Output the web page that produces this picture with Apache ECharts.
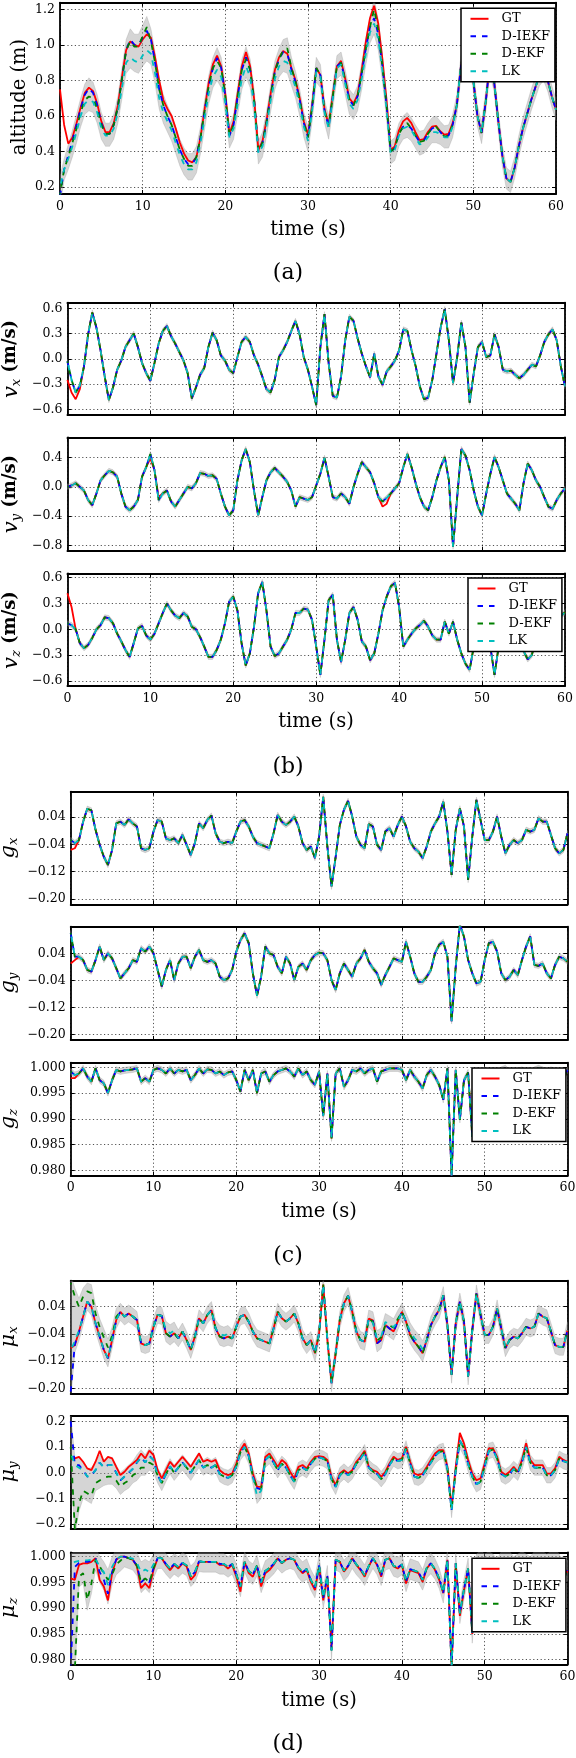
<!DOCTYPE html>
<html><head><meta charset="utf-8">
<script src="https://cdn.jsdelivr.net/npm/echarts@6/dist/echarts.min.js"></script>
<style>html,body{margin:0;padding:0;background:#fff}#c{width:576px;height:1758px}</style>
</head><body><div id="c"></div>
<script>
// ---------- data (sampled every 0.5 s, t = 0 .. 60 s) ----------
const timeTicks = [0,10,20,30,40,50,60];
const seriesNames = ['GT','D-IEKF','D-EKF','LK'];

const alt_ticks = [0.2,0.4,0.6,0.8,1.0,1.2];
const alt_gt = [
0.75,0.55,0.445,0.48,0.56,0.65,0.73,0.76,0.74,0.67,
0.57,0.51,0.51,0.56,0.66,0.82,0.97,1.02,1.00,0.99,
1.03,1.06,1.04,0.93,0.80,0.69,0.64,0.60,0.53,0.45,
0.39,0.35,0.34,0.37,0.48,0.64,0.79,0.89,0.94,0.88,
0.72,0.50,0.57,0.73,0.88,0.96,0.88,0.69,0.41,0.46,
0.58,0.73,0.86,0.93,0.965,0.95,0.87,0.80,0.70,0.57,
0.495,0.66,0.87,0.83,0.64,0.55,0.72,0.88,0.91,0.81,
0.70,0.67,0.72,0.86,1.02,1.15,1.22,1.12,0.92,0.69,
0.41,0.43,0.52,0.57,0.59,0.56,0.51,0.465,0.47,0.51,
0.54,0.545,0.515,0.495,0.50,0.56,0.66,0.88,1.00,0.97,
0.80,0.60,0.505,0.68,0.90,0.80,0.58,0.38,0.25,0.23,
0.31,0.43,0.53,0.61,0.69,0.76,0.83,0.86,0.80,0.71,
0.635];
const alt_iekf = [
0.15,0.30,0.38,0.46,0.55,0.64,0.72,0.755,0.73,0.66,
0.56,0.50,0.50,0.55,0.65,0.81,0.97,1.03,1.00,1.00,
1.04,1.08,1.03,0.90,0.75,0.66,0.60,0.55,0.48,0.41,
0.36,0.33,0.33,0.37,0.48,0.63,0.77,0.87,0.925,0.87,
0.71,0.49,0.55,0.71,0.86,0.93,0.86,0.68,0.40,0.45,
0.57,0.72,0.85,0.92,0.96,0.95,0.86,0.79,0.69,0.56,
0.48,0.65,0.87,0.83,0.63,0.54,0.71,0.88,0.90,0.80,
0.69,0.66,0.71,0.84,0.98,1.10,1.15,1.06,0.88,0.66,
0.40,0.42,0.50,0.54,0.55,0.53,0.49,0.455,0.46,0.50,
0.53,0.54,0.51,0.485,0.49,0.55,0.66,0.88,1.00,0.97,
0.80,0.60,0.505,0.68,0.90,0.80,0.58,0.38,0.25,0.23,
0.31,0.43,0.53,0.61,0.69,0.76,0.83,0.86,0.80,0.71,
0.635];
const alt_ekf_fix = [[0,0.16],[1,0.30],[2,0.37],[3,0.45],[4,0.53],[5,0.62],[6,0.69],[7,0.71],[8,0.70],[9,0.64],[10,0.55],
[17,1.02],[18,0.99],[19,0.99],[20,1.05],[21,1.10],[22,1.02],[31,0.32],[32,0.32],[38,0.91],[45,0.92],[54,0.97],[55,0.98],[56,0.87],[76,1.20],[77,1.08],[84,0.56]];
const alt_lk = [
0.20,0.30,0.36,0.43,0.51,0.60,0.67,0.69,0.68,0.62,
0.53,0.49,0.49,0.53,0.62,0.76,0.90,0.93,0.91,0.90,
0.94,0.97,0.95,0.84,0.70,0.62,0.57,0.52,0.45,0.38,
0.33,0.30,0.30,0.34,0.45,0.59,0.73,0.82,0.86,0.82,
0.67,0.48,0.53,0.67,0.81,0.88,0.82,0.65,0.39,0.43,
0.55,0.69,0.81,0.88,0.91,0.90,0.83,0.76,0.66,0.54,
0.46,0.63,0.85,0.82,0.62,0.53,0.70,0.87,0.89,0.78,
0.67,0.64,0.69,0.81,0.95,1.07,1.12,1.03,0.86,0.64,
0.39,0.41,0.49,0.53,0.54,0.52,0.48,0.44,0.45,0.48,
0.51,0.51,0.50,0.48,0.48,0.54,0.66,0.88,1.00,0.97,
0.80,0.60,0.505,0.68,0.90,0.80,0.58,0.38,0.25,0.23,
0.31,0.43,0.53,0.61,0.69,0.76,0.83,0.86,0.80,0.71,
0.635];

const vx_ticks = [-0.6,-0.3,0,0.3,0.6];
const vx_gt = [
-0.25,-0.40,-0.48,-0.36,-0.09,0.29,0.55,0.37,0.10,-0.21,
-0.49,-0.34,-0.13,-0.02,0.14,0.22,0.30,0.14,-0.05,-0.17,
-0.26,-0.05,0.18,0.33,0.39,0.27,0.18,0.08,-0.02,-0.17,
-0.47,-0.34,-0.19,-0.11,0.14,0.31,0.22,0.04,-0.02,-0.13,
-0.17,0.02,0.20,0.26,0.20,0.04,-0.07,-0.21,-0.36,-0.40,
-0.25,0.02,0.10,0.20,0.33,0.45,0.29,0.02,-0.13,-0.33,
-0.55,0.14,0.53,-0.05,-0.44,-0.46,-0.21,0.22,0.50,0.45,
0.24,0.06,-0.09,-0.22,0.06,-0.21,-0.31,-0.15,-0.09,-0.02,
0.10,0.35,0.33,0.10,-0.09,-0.33,-0.48,-0.46,-0.25,0.06,
0.37,0.59,0.22,-0.29,0.02,0.43,0.14,-0.52,-0.17,0.14,
0.20,0.02,0.04,0.29,0.14,-0.13,-0.15,-0.14,-0.19,-0.23,
-0.19,-0.13,-0.07,-0.09,0.04,0.20,0.29,0.35,0.22,-0.09,
-0.33];
const vx_est_fix = [[0,-0.03],[1,-0.25],[2,-0.40],[3,-0.32]];

const vy_ticks = [-0.8,-0.4,0,0.4];
const vy_gt = [
0.0,0.02,0.05,0.0,-0.05,-0.18,-0.25,-0.09,0.09,0.16,
0.22,0.20,0.14,-0.09,-0.27,-0.32,-0.27,-0.18,0.14,0.27,
0.39,0.23,-0.14,-0.09,-0.05,-0.20,-0.27,-0.18,-0.09,0.0,
-0.02,0.05,0.19,0.18,0.15,0.16,0.11,-0.09,-0.27,-0.39,
-0.32,0.09,0.36,0.52,0.34,-0.05,-0.39,-0.14,0.09,0.20,
0.26,0.20,0.14,0.07,-0.05,-0.27,-0.14,-0.16,-0.18,-0.14,
0.02,0.18,0.40,0.14,-0.14,-0.16,-0.09,-0.14,-0.23,0.0,
0.18,0.34,0.27,0.20,0.05,-0.14,-0.27,-0.23,-0.09,-0.02,
0.05,0.27,0.45,0.27,0.05,-0.14,-0.27,-0.32,-0.14,0.09,
0.27,0.41,0.09,-0.82,-0.14,0.52,0.43,0.23,-0.05,-0.27,
-0.39,-0.09,0.18,0.41,0.27,0.09,-0.09,-0.16,-0.23,-0.32,
0.05,0.32,0.23,0.09,0.0,-0.14,-0.27,-0.30,-0.18,-0.09,
-0.02];
const vy_est_fix = [[20,0.45],[22,-0.18],[76,-0.20],[77,-0.15]];

const vz_ticks = [-0.6,-0.3,0,0.3,0.6];
const vz_gt = [
0.42,0.26,0.0,-0.16,-0.22,-0.18,-0.10,0.0,0.05,0.14,
0.13,0.07,-0.05,-0.14,-0.24,-0.32,-0.16,0.01,0.04,-0.07,
-0.12,-0.05,0.07,0.19,0.30,0.22,0.16,0.13,0.19,0.15,
0.03,0.0,-0.09,-0.20,-0.32,-0.32,-0.24,-0.12,0.07,0.32,
0.38,0.22,-0.16,-0.42,-0.28,0.03,0.42,0.55,0.22,-0.20,
-0.31,-0.28,-0.20,-0.12,0.0,0.19,0.19,0.24,0.23,0.11,
-0.20,-0.53,-0.12,0.34,0.40,-0.12,-0.38,-0.12,0.19,0.26,
0.11,-0.14,-0.20,-0.36,-0.28,-0.05,0.22,0.38,0.50,0.54,
0.26,-0.20,-0.12,-0.05,0.01,0.05,0.10,0.03,-0.07,-0.12,
-0.12,0.09,-0.05,0.09,-0.12,-0.28,-0.40,-0.47,-0.20,0.19,
0.60,0.20,-0.20,-0.53,-0.20,0.10,0.20,0.10,-0.05,-0.15,
-0.25,-0.35,-0.30,-0.10,0.05,0.15,0.20,0.25,0.22,0.15,
0.20];
const vz_est_fix = [[0,0.07],[1,0.05],[2,0.0]];

const gxy_ticks = [-0.20,-0.12,-0.04,0.04];
const gx_gt = [
-0.056,-0.051,-0.027,0.027,0.065,0.06,0.003,-0.041,-0.076,-0.10,
-0.056,0.022,0.027,0.017,0.034,0.022,0.013,-0.051,-0.056,-0.051,
-0.002,0.032,0.027,-0.022,-0.027,-0.022,-0.036,-0.012,-0.041,-0.071,
-0.036,0.022,0.008,0.032,0.045,-0.007,-0.032,-0.036,-0.032,-0.036,
-0.002,0.027,0.032,0.013,-0.017,-0.036,-0.041,-0.046,-0.051,-0.007,
0.047,0.027,0.017,0.027,0.042,0.013,-0.036,-0.056,-0.046,-0.080,
-0.017,0.10,-0.046,-0.164,-0.076,0.017,0.062,0.088,0.042,-0.017,
-0.041,-0.051,0.020,0.013,-0.041,-0.056,-0.002,0.008,-0.017,0.017,
0.042,0.013,-0.032,-0.051,-0.061,-0.080,-0.046,-0.002,0.022,0.042,
0.086,-0.002,-0.129,0.003,0.066,0.013,-0.144,-0.017,0.091,0.032,
-0.027,-0.027,-0.002,0.042,-0.017,-0.066,-0.041,-0.027,-0.036,-0.027,
0.003,-0.002,0.003,0.037,0.027,0.027,-0.012,-0.051,-0.066,-0.056,
-0.007];
const gx_est_fix = [[0,-0.027],[1,-0.036]];
const gy_gt = [
0.010,0.020,0.030,0.020,-0.009,-0.014,0.020,0.060,0.020,0.040,
0.025,-0.004,-0.034,-0.019,-0.004,0.020,0.015,0.055,0.045,0.060,
0.040,-0.009,-0.058,-0.009,0.020,-0.039,0.010,0.030,0.030,-0.004,
0.030,0.050,0.020,0.015,0.020,0.010,-0.029,-0.039,-0.034,-0.009,
0.045,0.079,0.099,0.070,-0.019,-0.085,-0.029,0.060,0.040,0.035,
0.000,-0.019,0.030,0.010,-0.039,0.000,0.010,-0.009,0.020,0.035,
0.042,0.040,0.020,-0.039,-0.068,-0.019,0.010,-0.009,-0.029,0.010,
0.025,0.050,0.015,-0.004,-0.019,-0.053,-0.024,0.000,0.025,0.020,
0.015,0.074,0.030,-0.019,-0.044,-0.044,-0.029,-0.009,0.040,0.065,
0.074,0.030,-0.160,0.000,0.125,0.089,0.020,-0.019,-0.049,-0.044,
0.020,0.070,0.074,0.045,-0.019,-0.039,-0.029,-0.009,-0.024,0.020,
0.060,0.090,0.006,0.003,0.010,-0.019,-0.034,0.006,0.030,0.025,
0.015];
const gy_est_fix = [[0,0.10],[1,0.03]];

const z_ticks = [0.980,0.985,0.990,0.995,1.000];
const gz_gt = [
0.9979,0.9979,0.9988,0.9998,0.9982,0.9972,0.9998,0.9975,0.9969,0.9950,
0.9975,0.9995,0.9992,0.9994,0.9995,0.9996,0.9998,0.9972,0.9979,0.9972,
0.9995,0.9998,0.9995,0.9988,0.9998,0.9988,0.9995,0.9992,0.9995,0.9975,
0.9985,0.9998,0.9988,0.9996,0.9995,0.9988,0.9992,0.9985,0.9990,0.9992,
0.9975,0.9953,0.9995,0.9975,0.9995,0.9950,0.9988,0.9992,0.9972,0.9985,
0.9992,0.9995,0.9998,0.9992,0.9982,0.9998,0.9985,0.9992,0.9975,0.9966,
0.9992,0.9905,0.9988,0.9862,0.9988,0.9998,0.9962,0.9975,0.9995,0.9992,
0.9998,0.9988,0.9995,0.9998,0.9972,0.9992,0.9995,0.9998,0.9998,0.9998,
0.9995,0.9975,0.9995,0.9982,0.9972,0.9959,0.9985,0.9995,0.9982,0.9966,
0.9937,0.9998,0.9790,0.9995,0.9898,0.9975,0.9990,0.9865,0.9992,0.9985,
0.9995,0.9988,0.9992,0.9980,0.9995,0.9998,0.9990,0.9985,0.9992,0.9995,
0.9990,0.9985,0.9995,0.9998,0.9995,0.9990,0.9995,0.9992,0.9985,0.9975,
0.9995];
const gz_est_fix = [[0,0.9992],[1,0.9985]];

const mux_gt = [
-0.082,-0.073,-0.033,0.011,0.055,0.04,-0.009,-0.048,-0.087,-0.112,
-0.058,0.001,0.025,0.011,0.020,0.011,0.001,-0.068,-0.073,-0.068,
-0.019,0.016,0.013,-0.038,-0.048,-0.038,-0.053,-0.033,-0.058,-0.087,
-0.048,0.006,-0.009,0.016,0.030,-0.024,-0.048,-0.053,-0.048,-0.053,
-0.019,0.011,0.016,-0.004,-0.033,-0.053,-0.058,-0.063,-0.068,-0.024,
0.025,0.006,-0.004,0.006,0.020,-0.009,-0.053,-0.073,-0.058,-0.097,
-0.038,0.105,-0.058,-0.185,-0.097,0.001,0.050,0.072,0.025,-0.033,
-0.058,-0.063,0.005,0.000,-0.068,-0.058,-0.014,-0.024,-0.033,-0.004,
0.025,-0.004,-0.043,-0.063,-0.078,-0.097,-0.058,-0.014,0.011,0.030,
0.074,-0.014,-0.160,-0.009,0.055,-0.004,-0.165,-0.029,0.079,0.016,
-0.043,-0.043,-0.019,0.035,-0.024,-0.082,-0.058,-0.048,-0.053,-0.038,
-0.019,-0.024,-0.019,0.020,0.011,0.006,-0.033,-0.073,-0.078,-0.078,
-0.029];
const mux_iekf_fix = [[0,-0.21],[1,-0.07],[2,-0.035]];
const mux_ekf_fix = [[0,0.11],[1,0.07],[2,0.04],[3,0.07],[4,0.085],[5,0.08],[6,0.02],[7,-0.02],[8,-0.05],[9,-0.08],[10,-0.045],[11,0.01],
[73,-0.005],[74,-0.06],[75,-0.05],[77,-0.015],[78,-0.022],[79,0.004]];
const mux_lk_fix = [[0,-0.09],[1,-0.06],[2,-0.03],[23,-0.028],[24,-0.038],[25,-0.03],[36,-0.04],[37,-0.045],[38,-0.04],
[73,-0.008],[74,-0.055],[75,-0.048],[76,-0.005],[77,-0.012],[78,-0.02],[82,-0.033],[83,-0.052],[84,-0.066],[85,-0.085]];

const muy_ticks = [-0.2,-0.1,0,0.1,0.2];
const muy_gt = [
0.05,0.056,0.062,0.043,0.017,0.01,0.043,0.085,0.043,0.062,
0.056,0.023,-0.009,0.004,0.023,0.036,0.05,0.075,0.056,0.086,
0.069,0.01,-0.022,0.01,0.043,0.023,0.043,0.062,0.043,0.023,
0.05,0.075,0.043,0.05,0.043,0.05,0.01,-0.003,-0.009,-0.003,
0.036,0.088,0.114,0.075,-0.003,-0.055,-0.055,0.062,0.075,0.05,
0.023,0.05,0.036,0.004,-0.022,0.023,0.03,0.017,0.043,0.062,
0.065,0.062,0.05,-0.016,-0.048,-0.003,0.01,-0.003,0.01,0.043,
0.062,0.086,0.023,0.01,0.004,-0.016,0.004,0.036,0.062,0.05,
0.056,0.101,0.043,-0.003,-0.009,-0.003,0.023,0.05,0.075,0.088,
0.088,0.023,-0.135,0.023,0.155,0.114,0.05,-0.003,-0.029,-0.022,
0.036,0.095,0.095,0.062,0.004,-0.009,0.004,0.023,0.004,0.05,
0.115,0.05,0.03,0.03,0.03,-0.003,-0.003,0.017,0.062,0.05,
0.043];
const muy_iekf = [
0.20,0.03,0.03,0.01,-0.015,-0.01,0.01,0.04,0.02,0.03,
0.03,0.0,-0.03,-0.015,0.0,0.015,0.04,0.06,0.04,0.065,
0.05,-0.01,-0.04,-0.005,0.025,0.0,0.02,0.04,0.02,0.0,
0.025,0.05,0.02,0.03,0.02,0.03,-0.005,-0.015,-0.02,-0.01,
0.025,0.08,0.10,0.065,-0.015,-0.06,-0.065,0.05,0.065,0.04,
0.01,0.035,0.02,-0.01,-0.035,0.01,0.02,0.01,0.035,0.055,
0.06,0.055,0.045,-0.025,-0.055,-0.01,0.005,-0.01,0.005,0.035,
0.055,0.08,0.02,0.005,-0.005,-0.025,-0.005,0.03,0.055,0.045,
0.05,0.095,0.035,-0.015,-0.02,-0.01,0.015,0.04,0.065,0.08,
0.085,0.015,-0.145,0.01,0.125,0.095,0.035,-0.015,-0.045,-0.035,
0.025,0.085,0.09,0.055,-0.005,-0.015,-0.005,0.015,0.0,0.04,
0.10,0.04,0.02,0.02,0.02,-0.01,-0.01,0.01,0.055,0.045,
0.04];
const muy_ekf_fix = [[0,0.10],[1,-0.22],[2,-0.12],[3,-0.07],[4,-0.08],[5,-0.09],[6,-0.04],[7,-0.03],[8,-0.02],[9,-0.015],[10,-0.015],
[11,-0.03],[12,-0.055],[13,-0.04],[14,-0.03],[15,-0.01],[16,0.0],[17,0.02],[18,0.02],[19,0.04],[20,0.03]];
const muy_lk_fix = [[0,0.08],[1,0.03],[2,0.02],[45,-0.09],[46,-0.07]];

const muz_gt = [
0.9958,0.9955,0.9984,0.9987,0.9987,0.9990,0.9997,0.9955,0.9942,0.9915,
0.9968,0.9994,1.0000,1.0000,0.9997,0.9994,0.9981,0.9939,0.9948,0.9939,
0.9974,0.9997,0.9997,0.9984,0.9974,0.9984,0.9977,0.9987,0.9981,0.9955,
0.9964,0.9990,0.9990,0.9990,0.9990,0.9990,0.9984,0.9984,0.9977,0.9984,
0.9961,0.9932,0.9990,0.9968,0.9961,0.9981,0.9942,0.9968,0.9974,0.9984,
0.9997,0.9987,0.9994,0.9997,0.9994,0.9977,0.9968,0.9974,0.9951,0.9935,
0.9981,0.9915,0.9961,0.9825,0.9994,0.9990,0.9971,0.9981,0.9997,0.9984,
0.9974,0.9961,0.9981,0.9997,0.9984,0.9961,0.9994,0.9997,0.9981,0.9977,
0.9984,0.9948,0.9974,0.9971,0.9968,0.9951,0.9977,0.9987,0.9974,0.9955,
0.9929,0.9994,0.9785,0.9987,0.9885,0.9935,0.9977,0.9850,0.9985,0.9992,
0.9985,0.9990,0.9985,0.9975,0.9990,0.9995,0.9990,0.9980,0.9985,0.9990,
0.9985,0.9980,0.9990,0.9995,0.9990,0.9985,0.9990,0.9995,0.9985,0.9955,
0.9974];
const muz_iekf = [
0.9780,0.9980,0.9988,0.9990,0.9990,0.9992,0.9997,0.9970,0.9955,0.9928,
0.9970,0.9995,1.0000,1.0000,0.9997,0.9994,0.9983,0.9950,0.9958,0.9950,
0.9978,0.9997,0.9997,0.9986,0.9977,0.9986,0.9980,0.9988,0.9983,0.9962,
0.9970,0.9991,0.9990,0.9990,0.9990,0.9990,0.9986,0.9986,0.9980,0.9986,
0.9966,0.9942,0.9990,0.9972,0.9966,0.9983,0.9950,0.9972,0.9978,0.9986,
0.9997,0.9988,0.9994,0.9997,0.9994,0.9979,0.9970,0.9976,0.9955,0.9940,
0.9983,0.9920,0.9963,0.9818,0.9994,0.9990,0.9973,0.9982,0.9997,0.9985,
0.9976,0.9964,0.9982,0.9997,0.9985,0.9964,0.9994,0.9997,0.9982,0.9979,
0.9985,0.9952,0.9976,0.9973,0.9970,0.9955,0.9978,0.9987,0.9976,0.9958,
0.9930,0.9994,0.9785,0.9987,0.9890,0.9937,0.9977,0.9852,0.9985,0.9992,
0.9985,0.9990,0.9985,0.9975,0.9990,0.9995,0.9990,0.9980,0.9985,0.9990,
0.9985,0.9980,0.9990,0.9995,0.9990,0.9985,0.9990,0.9995,0.9985,0.9955,
0.9974];
const muz_ekf_fix = [[0,0.9750],[1,0.9780],[2,0.9961],[3,0.9968],[4,0.9916],[5,0.9948],[6,0.9994],[7,0.9981],[8,0.9968],[9,0.9955],[10,0.9965],[11,0.9985],[12,0.9992]];
const muz_lk_fix = [[0,0.9985],[1,0.9990],[2,0.9992],[3,0.9993],[4,0.9993],[5,0.9994],[6,0.9996],[7,0.9980],[8,0.9970],[9,0.9945],[10,0.9980],
[11,0.9995],[12,1.0],[13,1.0],[14,0.9998],[15,0.9996],[16,0.9988],[17,0.9970],[18,0.9975],[19,0.9970],[20,0.9985]];

// ---------- helpers ----------
const STEP = 0.5;
function withFix(base, fix){ const a = base.slice(); fix.forEach(p => { a[p[0]] = p[1]; }); return a; }
function pts(arr){ return arr.map((v,i)=>[i*STEP, v]); }
function fmt(v, d){ const s = Math.abs(v).toFixed(d); return (v < -1e-9 ? '\u2212' : '') + s; }

const FONT = '"DejaVu Serif", "Liberation Serif", serif';

const vx_est = withFix(vx_gt, vx_est_fix), vy_est = withFix(vy_gt, vy_est_fix), vz_est = withFix(vz_gt, vz_est_fix);
const gx_est = withFix(gx_gt, gx_est_fix), gy_est = withFix(gy_gt, gy_est_fix), gz_est = withFix(gz_gt, gz_est_fix);
const mux_iekf = withFix(mux_gt, mux_iekf_fix);

const panels = [
 {gt:alt_gt, iekf:alt_iekf, ekf:withFix(alt_iekf, alt_ekf_fix), lk:alt_lk, min:0.162, max:1.237, ticks:alt_ticks, dec:1, hw:0.06,
  left:60, top:2.7, width:496, height:191.3, xlab:true},
 {gt:vx_gt, iekf:vx_est, ekf:vx_est, lk:vx_est, min:-0.667, max:0.666, ticks:vx_ticks, dec:1, hw:0.03,
  left:67.4, top:302.7, width:497.6, height:112.3, xlab:false},
 {gt:vy_gt, iekf:vy_est, ekf:vy_est, lk:vy_est, min:-0.874, max:0.68, ticks:vy_ticks, dec:1, hw:0.035,
  left:67.4, top:437.3, width:497.6, height:113.4, xlab:false},
 {gt:vz_gt, iekf:vz_est, ekf:vz_est, lk:vz_est, min:-0.658, max:0.651, ticks:vz_ticks, dec:1, hw:0.03,
  left:67.4, top:573.3, width:497.6, height:112.7, xlab:true},
 {gt:gx_gt, iekf:gx_est, ekf:gx_est, lk:gx_est, min:-0.2156, max:0.115, ticks:gxy_ticks, dec:2, hw:0.008,
  left:70.7, top:791.7, width:496.8, height:112.6, xlab:false},
 {gt:gy_gt, iekf:gy_est, ekf:gy_est, lk:gy_est, min:-0.2156, max:0.1185, ticks:gxy_ticks, dec:2, hw:0.008,
  left:70.7, top:926.7, width:496.8, height:113.3, xlab:false},
 {gt:gz_gt, iekf:gz_est, ekf:gz_est, lk:gz_est, min:0.97895, max:1.0009, ticks:z_ticks, dec:3, hw:0.0006,
  left:70.7, top:1062.7, width:496.8, height:113, xlab:true},
 {gt:mux_gt, iekf:mux_iekf, ekf:withFix(mux_iekf, mux_ekf_fix), lk:withFix(mux_iekf, mux_lk_fix), min:-0.2147, max:0.1165, ticks:gxy_ticks, dec:2, hw:0.025,
  left:70.7, top:1280.7, width:496.8, height:112.6, xlab:false},
 {gt:muy_gt, iekf:muy_iekf, ekf:withFix(muy_iekf, muy_ekf_fix), lk:withFix(muy_iekf, muy_lk_fix), min:-0.219, max:0.221, ticks:muy_ticks, dec:1, hw:0.03,
  left:70.7, top:1416, width:496.8, height:113, xlab:false},
 {gt:muz_gt, iekf:muz_iekf, ekf:withFix(muz_iekf, muz_ekf_fix), lk:withFix(muz_iekf, muz_lk_fix), min:0.9791, max:1.00085, ticks:z_ticks, dec:3, hw:0.002,
  left:70.7, top:1552.3, width:496.8, height:112, xlab:true}
];

const grids = [], xAxes = [], yAxes = [], series = [];
const axisLineStyle = {color:'#000', width:1.8};
const tickStyle = {color:'#000', width:1};
const splitStyle = {color:'#000', width:0.8, type:[1.2,2.5], opacity:0.85};
const labelStyle = {color:'#000', fontFamily:FONT, fontSize:12.5};
const DASH = [5.5, 6];

panels.forEach((p, i) => {
  grids.push({left:p.left, top:p.top, width:p.width, height:p.height, containLabel:false, outerBoundsMode:'none'});
  const xb = {type:'value', gridIndex:i, min:0, max:60, interval:10, position:'bottom',
    axisLine:{show:true, onZero:false, lineStyle:axisLineStyle},
    axisTick:{show:true, inside:true, length:4, lineStyle:tickStyle},
    axisLabel:{show:p.xlab, margin:6, ...labelStyle, formatter:v=>String(v)},
    splitLine:{show:true, lineStyle:splitStyle}};
  const xt = {type:'value', gridIndex:i, min:0, max:60, interval:10, position:'top',
    axisLine:{show:true, onZero:false, lineStyle:axisLineStyle},
    axisTick:{show:true, inside:true, length:4, lineStyle:tickStyle},
    axisLabel:{show:false}, splitLine:{show:false}};
  xAxes.push(xb, xt);
  const yl = {type:'value', gridIndex:i, min:p.min, max:p.max, position:'left',
    axisLine:{show:true, onZero:false, lineStyle:axisLineStyle},
    axisTick:{show:true, inside:true, length:4, lineStyle:tickStyle, customValues:p.ticks},
    axisLabel:{show:true, margin:5, ...labelStyle, customValues:p.ticks, formatter:v=>fmt(v, p.dec)},
    splitLine:{show:true, lineStyle:splitStyle}};
  const yr = {type:'value', gridIndex:i, min:p.min, max:p.max, position:'right',
    axisLine:{show:true, onZero:false, lineStyle:axisLineStyle},
    axisTick:{show:true, inside:true, length:4, lineStyle:tickStyle, customValues:p.ticks},
    axisLabel:{show:false}, splitLine:{show:false}};
  yAxes.push(yl, yr);

  // uncertainty band around the estimates
  const lo = [], hi = [];
  for (let k = 0; k < p.gt.length; k++) {
    lo.push(Math.min(p.iekf[k], p.ekf[k], p.lk[k]) - p.hw);
    hi.push(Math.max(p.iekf[k], p.ekf[k], p.lk[k]) + p.hw);
  }
  const ax = {xAxisIndex:2*i, yAxisIndex:2*i};
  series.push({type:'custom', ...ax, name:'band'+i, silent:true, clip:true, z:1, animation:false,
    data:[[0, lo[0]]],
    renderItem: function(params, api){
      const up = hi.map((v,k)=>api.coord([k*STEP, v]));
      const dn = lo.map((v,k)=>api.coord([k*STEP, v])).reverse();
      return {type:'polygon', shape:{points:up.concat(dn)}, style:{fill:'rgba(150,150,150,0.40)', stroke:'rgba(140,140,140,0.5)', lineWidth:0.5}};
    }});
  const base = {type:'line', symbol:'none', showSymbol:false, silent:true, animation:false, emphasis:{disabled:true}};
  series.push({...base, ...ax, name:'GT', data:pts(p.gt), itemStyle:{color:'#ff0000'}, lineStyle:{color:'#ff0000', width:1.8}, z:3});
  series.push({...base, ...ax, name:'D-IEKF', data:pts(p.iekf), itemStyle:{color:'#0000ff'}, lineStyle:{color:'#0000ff', width:1.8, type:DASH, dashOffset:0}, z:4});
  series.push({...base, ...ax, name:'D-EKF', data:pts(p.ekf), itemStyle:{color:'#008000'}, lineStyle:{color:'#008000', width:1.8, type:DASH, dashOffset:3.8}, z:5});
  series.push({...base, ...ax, name:'LK', data:pts(p.lk), itemStyle:{color:'#00bfbf'}, lineStyle:{color:'#00bfbf', width:1.8, type:DASH, dashOffset:7.7}, z:6});
});

function legendAt(left, top){
  return {data:seriesNames, orient:'vertical', left:left, top:top, itemWidth:18, itemHeight:10, itemGap:3.5,
    padding:[3.5,5,3.5,8.5], backgroundColor:'#fff', borderColor:'#000', borderWidth:1.5, borderRadius:0,
    selectedMode:false, itemStyle:{opacity:0, borderWidth:0}, lineStyle:{dashOffset:0},
    textStyle:{fontFamily:FONT, fontSize:13, color:'#000', lineHeight:14, padding:[0,0,0,8]}, z:20};
}

const txt = (x, y, text, size) => ({type:'text', x:x, y:y, z:30,
  style:{text:text, fontFamily:FONT, fontSize:size, fill:'#000', align:'center', verticalAlign:'middle'}});
const R = Math.PI/2;
function rotLabel(x, y, sym, sub, unit){
  const t = '{a|' + sym + '}{b|' + sub + '}' + (unit ? '{c| ' + unit + '}' : '');
  return {type:'text', x:x, y:y, rotation:R, z:30, style:{text:t, align:'center', verticalAlign:'middle', fill:'#000',
    rich:{a:{fontFamily:FONT, fontStyle:'italic', fontSize:21, lineHeight:22, verticalAlign:'top', fill:'#000'},
          b:{fontFamily:FONT, fontStyle:'italic', fontSize:13, lineHeight:12, padding:[10,0,0,0], verticalAlign:'bottom', fill:'#000'},
          c:{fontFamily:FONT, fontWeight:'bold', fontSize:18, lineHeight:22, verticalAlign:'top', fill:'#000'}}}};
}

const graphics = [
  {type:'text', x:20, y:97, rotation:R, z:30, style:{text:'altitude (m)', fontFamily:FONT, fontSize:19.5, fill:'#000', align:'center', verticalAlign:'middle'}},
  txt(308, 230, 'time (s)', 19.5), txt(288, 273, '(a)', 22),
  rotLabel(12, 359, 'v', 'x', '(m/s)'), rotLabel(12, 494, 'v', 'y', '(m/s)'), rotLabel(12, 630, 'v', 'z', '(m/s)'),
  txt(316, 721.7, 'time (s)', 19.5), txt(288, 767, '(b)', 22),
  rotLabel(9, 848, 'g', 'x'), rotLabel(9, 983, 'g', 'y'), rotLabel(9, 1119, 'g', 'z'),
  txt(319, 1211.7, 'time (s)', 19.5), txt(288, 1256, '(c)', 22),
  rotLabel(9, 1337, '\u03bc', 'x'), rotLabel(9, 1472, '\u03bc', 'y'), rotLabel(9, 1608, '\u03bc', 'z'),
  txt(319, 1701, 'time (s)', 19.5), txt(288, 1744, '(d)', 22)
];

const chart = echarts.init(document.getElementById('c'), null, {renderer:'canvas'});
chart.setOption({
  animation:false, backgroundColor:'#fff',
  grid:grids, xAxis:xAxes, yAxis:yAxes, series:series,
  legend:[legendAt(461, 8.3), legendAt(468, 578), legendAt(472, 1068), legendAt(472, 1558.3)],
  graphic:graphics
});
</script></body></html>
